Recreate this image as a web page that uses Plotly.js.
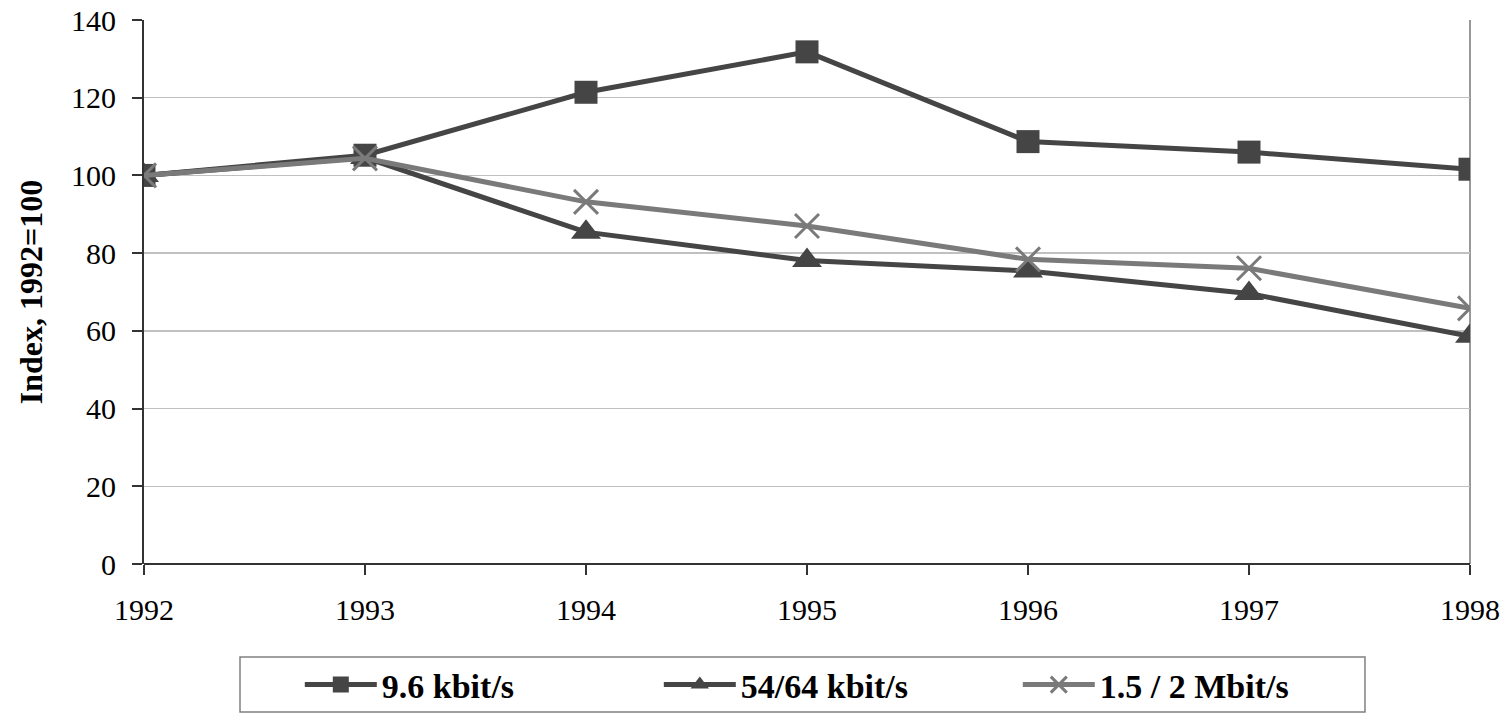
<!DOCTYPE html>
<html>
<head>
<meta charset="utf-8">
<script src="https://cdn.plot.ly/plotly-3.0.1.min.js"></script>
<style>html,body{margin:0;padding:0;background:#fff}#chart{width:1508px;height:713px}</style>
</head>
<body>
<div id="chart"></div>
<script>
const years = ['1992','1993','1994','1995','1996','1997','1998'];
const kbit96 = [100, 105.2, 121.4, 131.8, 108.7, 106.0, 101.6];
const kbit5464 = [100, 104.6, 85.4, 78.1, 75.4, 69.6, 58.6];
const mbit152 = [100, 104.4, 93.2, 87.0, 78.4, 76.1, 65.8];
const seriesNames = ['9.6 kbit/s', '54/64 kbit/s', '1.5 / 2 Mbit/s'];
const yTitle = 'Index, 1992=100';

const serif = '"Liberation Serif", "Times New Roman", serif';
const traces = [
  {x: years, y: kbit96, name: seriesNames[0], type: 'scatter', mode: 'lines+markers',
   line: {color: '#454545', width: 5}, marker: {symbol: 'square', size: 23, color: '#454545'}},
  {x: years, y: kbit5464, name: seriesNames[1], type: 'scatter', mode: 'lines+markers',
   line: {color: '#454545', width: 5}, marker: {symbol: 'triangle-up', size: 26, color: '#454545'}},
  {x: years, y: mbit152, name: seriesNames[2], type: 'scatter', mode: 'lines+markers',
   line: {color: '#7a7a7a', width: 5}, marker: {symbol: 'x-thin', size: 24, color: '#7a7a7a', line: {color: '#7a7a7a', width: 3}}}
];
const layout = {
  width: 1508, height: 713,
  margin: {l: 144, r: 38, t: 20, b: 149, autoexpand: false},
  paper_bgcolor: '#fff', plot_bgcolor: '#fff',
  font: {family: serif, color: '#000', size: 30},
  showlegend: true,
  legend: {orientation: 'h', x: 0.1175, xanchor: 'left', y: -0.2224, yanchor: 'middle',
    borderwidth: 0, font: {family: serif, size: 34, color: '#000', weight: 'bold'},
    entrywidth: 272, entrywidthmode: 'pixels', itemwidth: 72, bgcolor: 'rgba(0,0,0,0)'},
  xaxis: {type: 'category', range: [0, 6], showgrid: false, zeroline: false,
    showline: false, ticks: 'outside', ticklen: 10, tickcolor: '#333', tickwidth: 2,
    ticklabelstandoff: 9,
    tickfont: {family: serif, size: 30, color: '#000'}, fixedrange: true},
  yaxis: {range: [0, 140], dtick: 20, showgrid: true, gridcolor: '#c0c0c0', gridwidth: 1.5,
    zeroline: false, showline: true, linecolor: '#333', linewidth: 2,
    ticks: 'outside', ticklen: 10, tickcolor: '#333', tickwidth: 2,
    ticklabelstandoff: 10,
    tickfont: {family: serif, size: 30, color: '#000'},
    title: {text: yTitle, font: {family: serif, size: 32, color: '#000', weight: 'bold'}, standoff: 19}},
  shapes: [
    {type: 'line', xref: 'paper', yref: 'paper', x0: 0, x1: 1, y0: 0, y1: 0, line: {color: '#333', width: 2}, layer: 'above'},
    {type: 'line', xref: 'paper', yref: 'paper', x0: 1, x1: 1, y0: 0, y1: 1, line: {color: '#999', width: 2}, layer: 'below'},
    {type: 'rect', xref: 'paper', yref: 'paper', x0: 0.0724, x1: 0.9208, y0: -0.272, y1: -0.171,
     line: {color: '#808080', width: 1.5}, fillcolor: 'rgba(0,0,0,0)'}
  ]
};
Plotly.newPlot('chart', traces, layout, {displayModeBar: false, staticPlot: true});
</script>
</body>
</html>
